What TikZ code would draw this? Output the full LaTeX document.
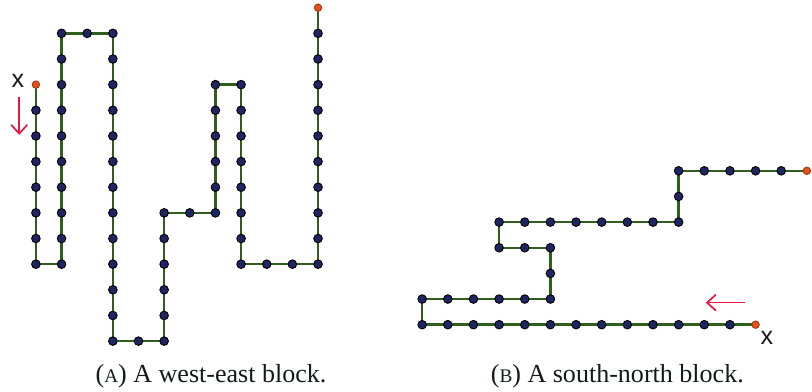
\documentclass[tikz,border=0pt]{standalone}
\usepackage{fontspec}
\setmainfont{Liberation Serif}
\setsansfont{Liberation Sans}
\usetikzlibrary{arrows.meta, positioning, calc, backgrounds}
\definecolor{ink}{HTML}{15181D}
\definecolor{walk}{HTML}{2F5F1C}
\definecolor{site}{HTML}{1F2463}
\definecolor{tipc}{HTML}{E8501A}
\definecolor{dirc}{HTML}{E8173F}
\tikzset{
  font=\rmfamily,
  %
  dot/.style={circle, draw=black, line width=0.45pt, fill=site,
              inner sep=0pt, minimum size=4.3pt},
  ends/.style={dot, draw=tipc!70!black, fill=tipc, minimum size=3.7pt},
  %
  walkline/.style={draw=walk, line width=1.2pt, line join=miter},
  dirarrow/.style={draw=dirc, line width=0.85pt,
                   -{Straight Barb[length=4.4pt, width=8pt]}},
  %
  xlbl/.style={font=\sffamily\fontsize{12.5}{14}\selectfont, text=ink, inner sep=0pt},
  captxt/.style={font=\rmfamily\fontsize{13}{15}\selectfont, text=ink,
                 anchor=base, inner sep=0pt},
}
\newcommand{\fakesc}[1]{{\fontsize{9.6}{11}\selectfont #1}}

\begin{document}
\begin{tikzpicture}[x=0.45cm, y=0.45cm]
  \useasboundingbox (0,0) rectangle (31.66,15.28);

  % --- west-east block ---------------------------------------------------
  \begin{scope}[shift={(1.40,14.98)}]
    \foreach \c/\ra/\rb in {0/4/10, 1/1/10, 3/1/13, 5/8/13, 7/3/8, 8/3/10, 11/1/10}
      \foreach \r in {\ra,...,\rb}
        \node[dot] (a-\c-\r) at (\c,-\r) {};
    \foreach \c/\r in {2/1, 4/13, 6/8, 9/10, 10/10}
      \node[dot] (a-\c-\r) at (\c,-\r) {};
    \node[ends] (a-0-3) at (0,-3) {};
    \node[ends] (a-11-0) at (11,0) {};

    \begin{scope}[on background layer]
      \draw[walkline] (a-0-3.center) -- (a-0-10.center) -- (a-1-10.center)
        -- (a-1-1.center) -- (a-3-1.center) -- (a-3-13.center)
        -- (a-5-13.center) -- (a-5-8.center) -- (a-7-8.center)
        -- (a-7-3.center) -- (a-8-3.center) -- (a-8-10.center)
        -- (a-11-10.center) -- (a-11-0.center);
    \end{scope}

    \node[xlbl] (xa) at ($(a-0-3)+(-0.7,0.15)$) {x};
    \coordinate (da1) at ($(a-0-3)+(-0.65,-0.47)$);
    \coordinate (da2) at ($(a-0-3)+(-0.65,-1.96)$);
    \draw[dirarrow] (da1) -- (da2);
  \end{scope}

  % --- south-north block -------------------------------------------------
  \begin{scope}[shift={(16.46,2.62)}]
    \foreach \r/\ca/\cb in {0/0/12, 1/0/5, 3/3/5, 4/3/10, 6/10/14}
      \foreach \c in {\ca,...,\cb}
        \node[dot] (b-\c-\r) at (\c,\r) {};
    \foreach \c/\r in {5/2, 10/5}
      \node[dot] (b-\c-\r) at (\c,\r) {};
    \node[ends] (b-13-0) at (13,0) {};
    \node[ends] (b-15-6) at (15,6) {};

    \begin{scope}[on background layer]
      \draw[walkline] (b-13-0.center) -- (b-0-0.center) -- (b-0-1.center)
        -- (b-5-1.center) -- (b-5-3.center) -- (b-3-3.center)
        -- (b-3-4.center) -- (b-10-4.center) -- (b-10-6.center)
        -- (b-15-6.center);
    \end{scope}

    \node[xlbl] (xb) at ($(b-13-0)+(0.44,-0.53)$) {x};
    \coordinate (db1) at ($(b-13-0)+(-0.42,0.86)$);
    \coordinate (db2) at ($(b-13-0)+(-1.94,0.86)$);
    \draw[dirarrow] (db1) -- (db2);
  \end{scope}

  % --- captions ----------------------------------------------------------
  \node[captxt] (capa) at (8.23,0.38) {(\fakesc{A}) A west-east block.};
  \node[captxt] (capb) at (24.07,0.38) {(\fakesc{B}) A south-north block.};

\end{tikzpicture}
\end{document}
